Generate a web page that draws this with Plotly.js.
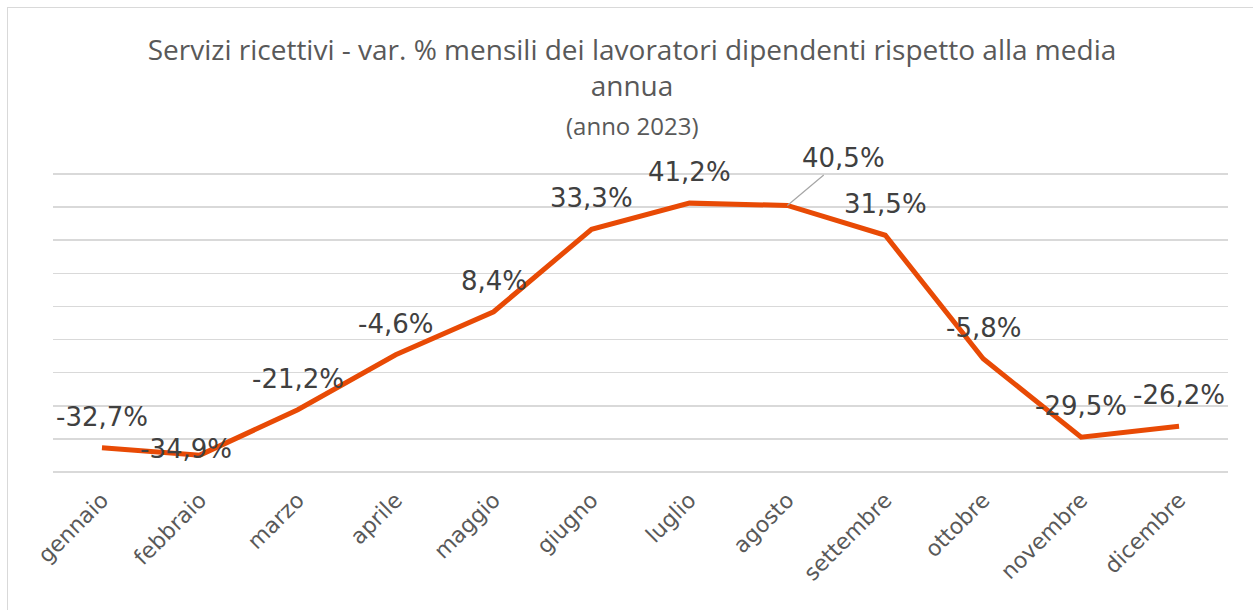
<!DOCTYPE html>
<html>
<head>
<meta charset="utf-8">
<script src="https://cdn.plot.ly/plotly-3.0.1.min.js"></script>
<style>
html,body{margin:0;padding:0;background:#fff;}
#wrap{position:relative;width:1253px;height:610px;overflow:hidden;}
#chart{position:absolute;left:0;top:0;width:1253px;height:610px;}
#frame{position:absolute;left:7px;top:7px;width:1260px;height:620px;border:1px solid #d9d9d9;pointer-events:none;}
</style>
</head>
<body>
<div id="wrap"><div id="chart"></div><div id="frame"></div></div>
<script>
const months = ["gennaio","febbraio","marzo","aprile","maggio","giugno","luglio","agosto","settembre","ottobre","novembre","dicembre"];
const values = [-32.7,-34.9,-21.2,-4.6,8.4,33.3,41.2,40.5,31.5,-5.8,-29.5,-26.2];
const valueLabels = ["-32,7%","-34,9%","-21,2%","-4,6%","8,4%","33,3%","41,2%","40,5%","31,5%","-5,8%","-29,5%","-26,2%"];
const yTicks = [-40,-30,-20,-10,0,10,20,30,40,50];

const labelFont = {family:"DejaVu Sans, Verdana, sans-serif", size:26, color:"#404040"};
const annotations = months.map((m,i)=>{
  const a = {x:m, y:values[i], xref:"x", yref:"y", text:valueLabels[i], showarrow:false,
             font:labelFont, xanchor:"center", yanchor:"middle", yshift:31};
  if (m === "febbraio") { a.xshift = -14; a.yshift = 6; }
  if (m === "agosto") {
    a.showarrow = true; a.arrowhead = 0; a.arrowwidth = 1.2; a.arrowcolor = "#a6a6a6";
    a.ax = 56; a.ay = -47; a.yshift = 0;
  }
  return a;
});
annotations.push({xref:"paper", yref:"paper", x:(632-53)/1175, y:(474-125)/302, xanchor:"center", yanchor:"middle",
  text:"(anno 2023)", showarrow:false, font:{family:"Open Sans, sans-serif", size:24, color:"#595959"}});

const trace = {x:months, y:values, type:"scatter", mode:"lines",
  line:{color:"#E84A05", width:5}, hoverinfo:"skip", showlegend:false};

const layout = {
  width:1253, height:610,
  margin:{l:53, r:25, t:172, b:136},
  paper_bgcolor:"#fff", plot_bgcolor:"#fff",
  title:{text:"Servizi ricettivi - var. % mensili dei lavoratori dipendenti rispetto alla media<br>annua",
    font:{family:"Open Sans, sans-serif", size:28, color:"#595959"},
    x:632/1253, xanchor:"center", xref:"container", y:1-60/610, yanchor:"top", yref:"container"},
  xaxis:{type:"category", range:[-0.5,11.5], showgrid:false, zeroline:false, showline:false,
    ticks:"", tickangle:-45, ticklabelstandoff:8,
    tickfont:{family:"DejaVu Sans, Verdana, sans-serif", size:22, color:"#595959"}},
  yaxis:{range:[-40.6,50.6], tickvals:yTicks, showticklabels:false, showgrid:true, gridcolor:"#d9d9d9",
    gridwidth:1.5, zeroline:false, showline:false, ticks:""},
  annotations:annotations,
  showlegend:false
};
Plotly.newPlot("chart",[trace],layout,{displayModeBar:false,staticPlot:true});
</script>
</body>
</html>
